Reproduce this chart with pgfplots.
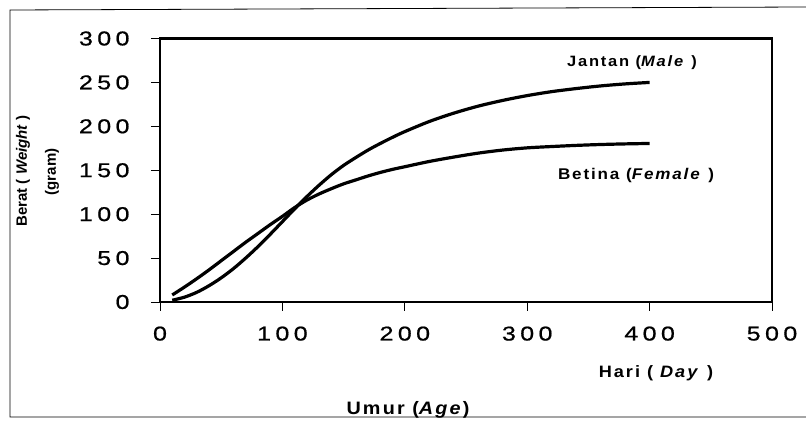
\documentclass[border=0pt]{standalone}
\usepackage{pgfplots}
\pgfplotsset{compat=1.18}
\usepackage{fontspec}
\setmainfont{Liberation Sans}
\newfontfamily\tickfont[LetterSpace=22,FakeStretch=1.25,FakeBold=0.8]{Liberation Sans}
\newfontfamily\lblfont[LetterSpace=12,FakeStretch=1.1]{Liberation Sans}

\pgfplotstableread{
x y
10 2
20 5.5
30 11
40 18.5
50 27.5
60 38
70 50
80 63
90 77
100 91.5
110 106
120 120
130 133
140 145
150 155.5
160 164.5
170 173
180 180.5
190 187.5
200 194
220 205.5
240 215
260 223
280 229.5
300 235
320 239.5
340 243
360 246
380 248.3
400 250
}\male

\pgfplotstableread{
x y
10 8
20 17
30 26.5
40 36.5
50 47
60 57.5
70 68
80 78
90 88
100 97.5
110 107.5
120 116
130 123
140 129
150 134.5
160 139
170 143.5
180 147.5
190 151
200 154
220 160
240 165
260 169.5
280 173
300 175.5
320 177
340 178.3
360 179.3
380 180
400 180.5
}\female

\begin{document}
\begin{tikzpicture}
\useasboundingbox (0,0) rectangle (806bp,427bp);
\draw[line width=0.8bp] (806bp,10bp) -- (10bp,10bp) -- (10bp,417bp) -- (806bp,420bp);
\begin{axis}[
  at={(160bp,125bp)}, anchor=south west,
  width=612bp, height=263.5bp, scale only axis,
  xmin=0, xmax=500, ymin=0, ymax=300,
  xtick={0,100,...,500}, ytick={0,50,...,300},
  xtick pos=bottom, ytick pos=left,
  tick align=outside, major tick length=9bp,
  axis line style={line width=2.8bp},
  tick style={line width=0.8bp, black},
  /pgf/number format/assume math mode=true,
  tick label style={font=\tickfont\fontsize{20bp}{24bp}\selectfont},
  xticklabel style={yshift=-12bp},
  yticklabel style={xshift=-18bp},
  clip=false,
]
\addplot[black, line width=3.2bp, smooth] table[x=x,y=y] {\male};
\addplot[black, line width=3.2bp, smooth] table[x=x,y=y] {\female};
\end{axis}
\node[rotate=90, font=\bfseries\fontsize{15bp}{18bp}\selectfont] at (23bp,256bp) {Berat ( \textit{Weight} )};
\node[rotate=90, font=\bfseries\fontsize{15bp}{18bp}\selectfont] at (52bp,255bp) {(gram)};
\node[font=\lblfont\bfseries\fontsize{18bp}{20bp}\selectfont] at (408bp,17bp) {Umur (\textit{Age})};
\node[font=\lblfont\bfseries\fontsize{16.5bp}{20bp}\selectfont] at (656bp,54bp) {Hari ( \textit{Day} )};
\node[font=\lblfont\bfseries\fontsize{15bp}{18bp}\selectfont] at (632bp,364bp) {Jantan (\textit{Male} )};
\node[font=\lblfont\bfseries\fontsize{15.5bp}{18bp}\selectfont] at (636bp,252bp) {Betina (\textit{Female} )};
\end{tikzpicture}
\end{document}
